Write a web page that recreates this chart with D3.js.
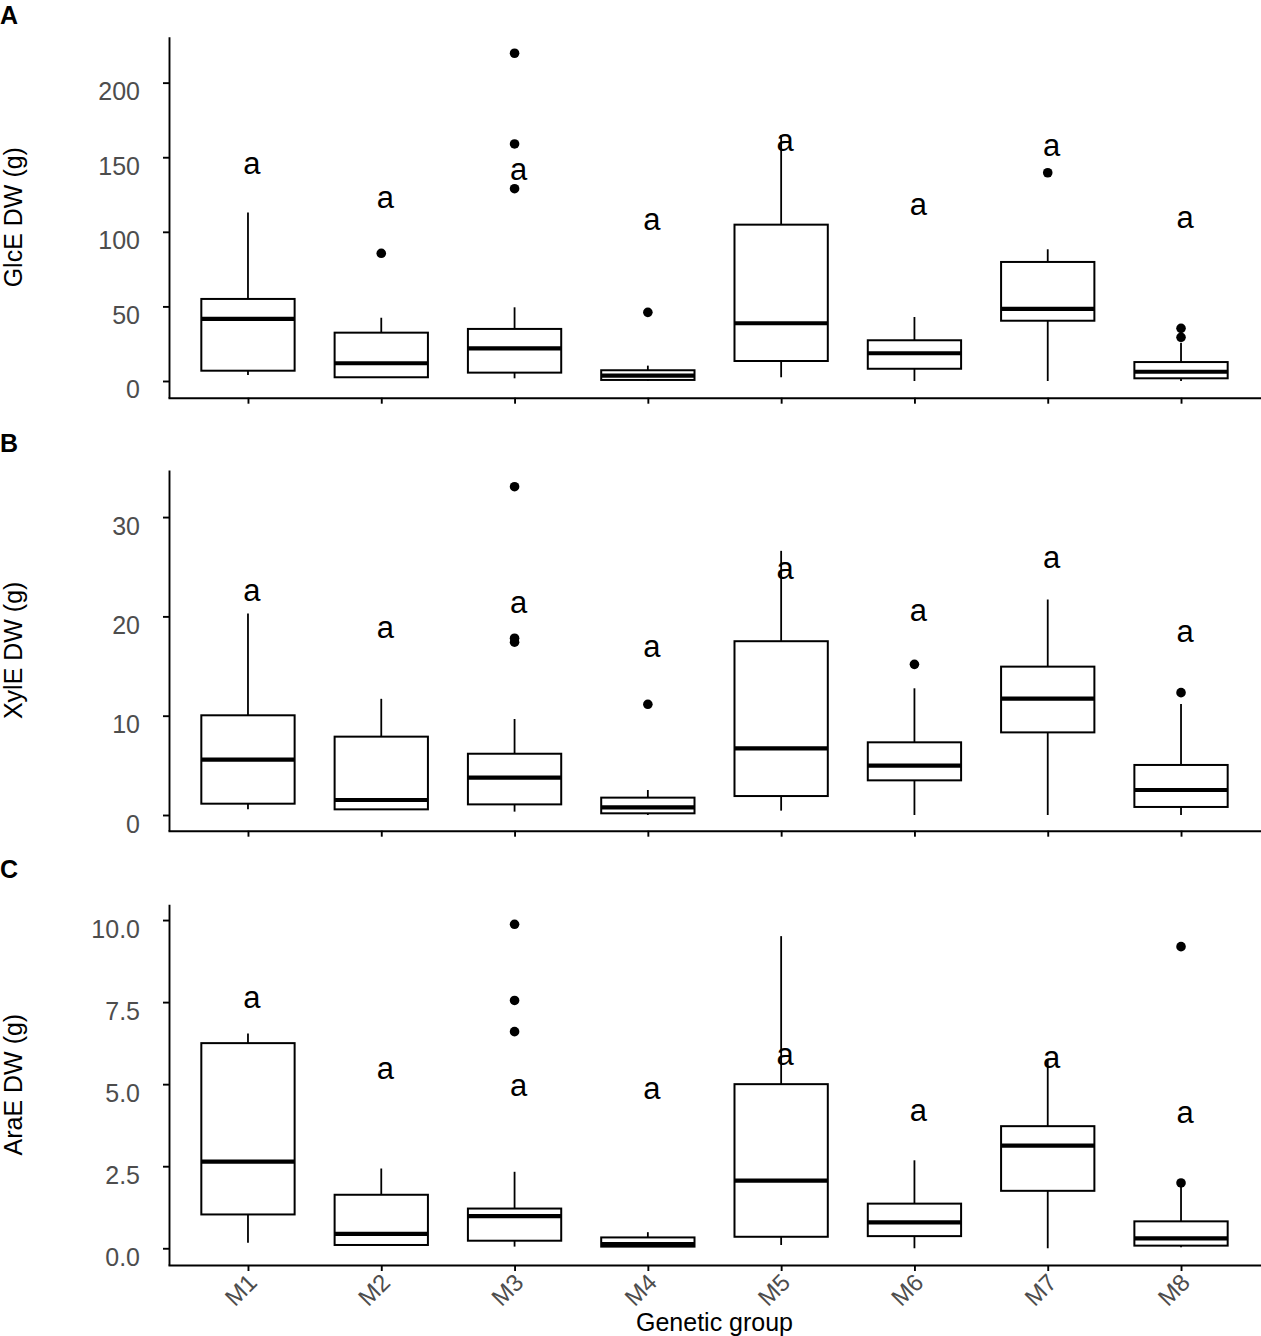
<!DOCTYPE html>
<html>
<head>
<meta charset="utf-8">
<script src="https://cdn.jsdelivr.net/npm/d3@7"></script>
<style>
  body { margin: 0; background: #fff; }
  svg { display: block; font-family: "Liberation Sans", Arial, sans-serif; }
</style>
</head>
<body>
<div id="chart"></div>
<script>
// Genetic group boxplots – three stacked panels (GlcE, XylE, AraE)

const groups = ['M1', 'M2', 'M3', 'M4', 'M5', 'M6', 'M7', 'M8'];

// Panel A – GlcE DW (g)
const glcLow    = [4, 2.5, 1.8, 0, 2.5, 0, 0, 0];
const glcQ1     = [6.9, 2.5, 5.6, 0.7, 13.4, 8.2, 40.4, 1.8];
const glcMedian = [41.6, 11.9, 21.9, 3.6, 38.7, 18.6, 48.3, 6.2];
const glcQ3     = [55, 32.4, 34.9, 7.2, 104.8, 27.3, 79.8, 12.7];
const glcHigh   = [113, 42.4, 49.4, 10.3, 164.9, 42.9, 88.3, 25.7];
const glcOut    = [[], [85.6], [219.7, 158.9, 128.9], [46], [], [], [139.6], [35.3, 29.3]];
const glcLetterY = [144.3, 121.3, 140.3, 106.8, 159.3, 116.8, 156, 107.9];
const glcTicks  = [0, 50, 100, 150, 200];

// Panel B – XylE DW (g)
const xylLow    = [0.57, 0.57, 0.34, 0, 0.44, 0, 0, 0];
const xylQ1     = [1.14, 0.57, 1.07, 0.17, 1.91, 3.49, 8.32, 0.81];
const xylMedian = [5.57, 1.51, 3.76, 0.77, 6.71, 4.97, 11.71, 2.52];
const xylQ3     = [10.04, 7.89, 6.17, 1.75, 17.5, 7.32, 14.94, 5.04];
const xylHigh   = [20.3, 11.7, 9.67, 2.52, 26.6, 12.76, 21.7, 11.18];
const xylOut    = [[], [], [33.06, 17.8, 17.4], [11.15], [], [15.17], [], [12.32]];
const xylLetterY = [22.33, 18.63, 21.15, 16.69, 24.6, 20.31, 25.68, 18.2];
const xylTicks  = [0, 10, 20, 30];

// Panel C – AraE DW (g)
const araLow    = [0.17, 0.10, 0.05, 0.05, 0.10, 0, 0, 0.03];
const araQ1     = [1.03, 0.10, 0.23, 0.05, 0.35, 0.37, 1.75, 0.08];
const araMedian = [2.64, 0.44, 0.98, 0.13, 2.06, 0.79, 3.13, 0.30];
const araQ3     = [6.25, 1.63, 1.21, 0.33, 5.0, 1.36, 3.72, 0.82];
const araHigh   = [6.54, 2.43, 2.33, 0.49, 9.51, 2.68, 5.77, 1.9];
const araOut    = [[], [], [9.87, 7.55, 6.60], [], [], [], [], [9.19, 1.99]];
const araLetterY = [7.56, 5.41, 4.87, 4.80, 5.84, 4.11, 5.74, 4.06];
const araTicks  = [0, 2.5, 5, 7.5, 10];

const letters = ['a', 'a', 'a', 'a', 'a', 'a', 'a', 'a'];

const W = 1261, H = 1336;
const left = 168, right = 1261;
const FONT = '"Liberation Sans", Arial, sans-serif';

const panels = [
    { tag: 'A', title: 'GlcE DW (g)', top: 36.7, bottom: 397.7, domain: [-11.2, 230.8], tagY: 24,
      low: glcLow, q1: glcQ1, med: glcMedian, q3: glcQ3, high: glcHigh, out: glcOut, letterY: glcLetterY,
      ticks: glcTicks, fmt: d3.format('d'), xLabels: false },
    { tag: 'B', title: 'XylE DW (g)', top: 470, bottom: 830.7, domain: [-1.58, 34.74], tagY: 451.5,
      low: xylLow, q1: xylQ1, med: xylMedian, q3: xylQ3, high: xylHigh, out: xylOut, letterY: xylLetterY,
      ticks: xylTicks, fmt: d3.format('d'), xLabels: false },
    { tag: 'C', title: 'AraE DW (g)', top: 904.3, bottom: 1265, domain: [-0.51, 10.48], tagY: 878,
      low: araLow, q1: araQ1, med: araMedian, q3: araQ3, high: araHigh, out: araOut, letterY: araLetterY,
      ticks: araTicks, fmt: d3.format('.1f'), xLabels: true }
];

const svg = d3.select('#chart').append('svg')
    .attr('width', W)
    .attr('height', H);

const x = d3.scalePoint()
    .domain(groups)
    .range([left, right])
    .padding(0.6);

const boxW = x.step() * 0.7;

panels.forEach(p => {
    const y = d3.scaleLinear().domain(p.domain).range([p.bottom, p.top]);
    const g = svg.append('g');

    // panel tag
    g.append('text')
        .attr('x', 0)
        .attr('y', p.tagY)
        .attr('font-size', '25px')
        .attr('font-weight', 'bold')
        .attr('fill', '#000')
        .text(p.tag);

    // y title
    g.append('text')
        .attr('transform', `translate(22,${(p.top + p.bottom) / 2}) rotate(-90)`)
        .attr('text-anchor', 'middle')
        .attr('font-size', '25px')
        .attr('fill', '#000')
        .text(p.title);

    // y axis
    const yAxis = g.append('g')
        .attr('transform', `translate(${left + 1},0)`)
        .call(d3.axisLeft(y).tickValues(p.ticks).tickFormat(p.fmt).tickSize(6).tickSizeOuter(0).tickPadding(23));
    yAxis.select('.domain').attr('stroke', '#000').attr('stroke-width', 1.9);
    yAxis.selectAll('.tick line').attr('stroke', '#000').attr('stroke-width', 1.9);
    yAxis.selectAll('.tick text')
        .attr('y', 9)
        .attr('font-size', '25px')
        .attr('font-family', FONT)
        .attr('fill', '#4d4d4d');

    // x axis
    const xAxis = g.append('g')
        .attr('transform', `translate(0,${p.bottom})`)
        .call(d3.axisBottom(x).tickSize(6).tickSizeOuter(0));
    xAxis.select('.domain').attr('stroke', '#000').attr('stroke-width', 1.9);
    xAxis.selectAll('.tick line').attr('stroke', '#000').attr('stroke-width', 1.9);
    if (p.xLabels) {
        xAxis.selectAll('.tick text')
            .attr('y', 0)
            .attr('dy', 0)
            .attr('text-anchor', 'end')
            .attr('transform', 'translate(10,19) rotate(-45)')
            .attr('font-size', '24px')
            .attr('font-family', FONT)
            .attr('fill', '#4d4d4d');
    } else {
        xAxis.selectAll('.tick text').remove();
    }

    const rows = groups.map((name, i) => ({
        name, low: p.low[i], q1: p.q1[i], med: p.med[i], q3: p.q3[i], high: p.high[i],
        out: p.out[i], letterY: p.letterY[i], letter: letters[i]
    }));

    const box = g.selectAll('g.box')
        .data(rows)
        .join('g')
        .attr('class', 'box')
        .attr('transform', d => `translate(${x(d.name)},0)`);

    // whiskers
    box.append('line')
        .attr('x1', 0).attr('x2', 0)
        .attr('y1', d => y(d.q3)).attr('y2', d => y(d.high))
        .attr('stroke', '#000').attr('stroke-width', 1.8);
    box.append('line')
        .attr('x1', 0).attr('x2', 0)
        .attr('y1', d => y(d.q1)).attr('y2', d => y(d.low))
        .attr('stroke', '#000').attr('stroke-width', 1.8);

    // box
    box.append('rect')
        .attr('x', -boxW / 2)
        .attr('width', boxW)
        .attr('y', d => y(d.q3))
        .attr('height', d => Math.max(0, y(d.q1) - y(d.q3)))
        .attr('fill', '#fff')
        .attr('stroke', '#000')
        .attr('stroke-width', 2);

    // median
    box.append('line')
        .attr('x1', -boxW / 2).attr('x2', boxW / 2)
        .attr('y1', d => y(d.med)).attr('y2', d => y(d.med))
        .attr('stroke', '#000').attr('stroke-width', 4.2);

    // outliers
    box.selectAll('circle')
        .data(d => d.out)
        .join('circle')
        .attr('cx', 0)
        .attr('cy', v => y(v))
        .attr('r', 4.8)
        .attr('fill', '#000');

    // significance letters
    box.append('text')
        .attr('x', 4)
        .attr('y', d => y(d.letterY) + 8)
        .attr('text-anchor', 'middle')
        .attr('font-size', '31px')
        .attr('fill', '#000')
        .text(d => d.letter);
});

// x title
svg.append('text')
    .attr('x', (left + right) / 2)
    .attr('y', 1331)
    .attr('text-anchor', 'middle')
    .attr('font-size', '25px')
    .attr('fill', '#000')
    .text('Genetic group');
</script>
</body>
</html>
